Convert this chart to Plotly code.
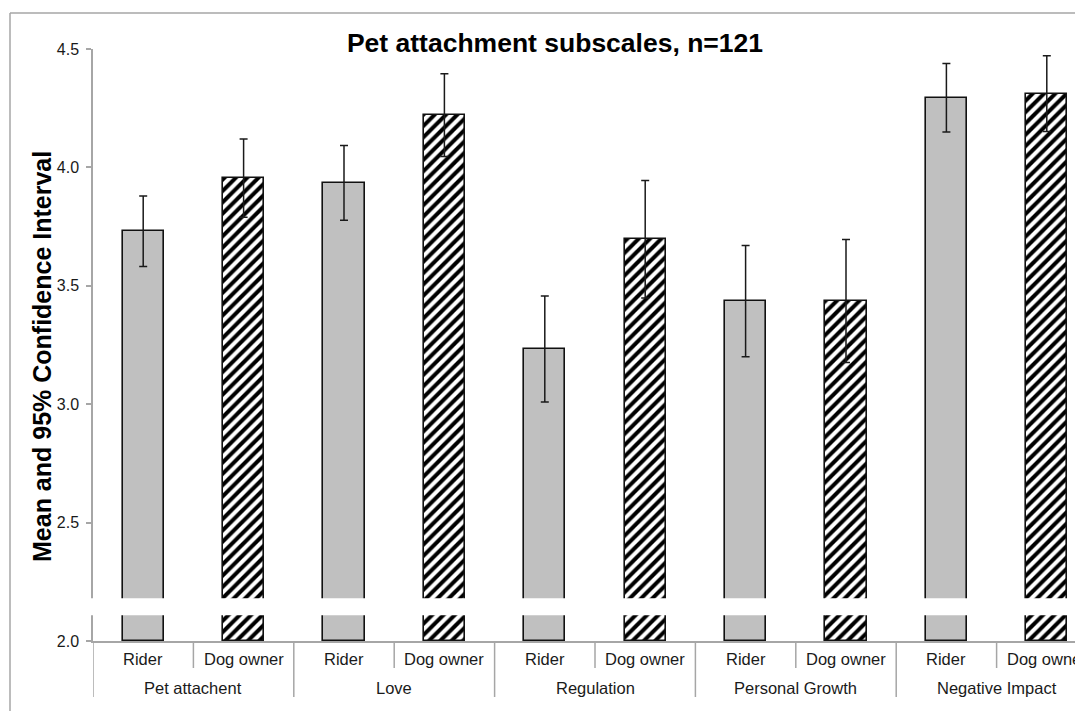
import plotly.graph_objects as go

# ---- data ----
groups = ["Pet attachent", "Love", "Regulation", "Personal Growth", "Negative Impact"]
subgroups = ["Rider", "Dog owner"]
rider_mean = [3.73, 3.935, 3.233, 3.435, 4.294]
rider_ci = [0.149, 0.158, 0.224, 0.235, 0.145]
dog_mean = [3.955, 4.221, 3.697, 3.436, 4.312]
dog_ci = [0.165, 0.175, 0.248, 0.26, 0.16]
y_ticks = [2.0, 2.5, 3.0, 3.5, 4.0, 4.5]
y_range = [2.0, 4.5]
break_band = [2.109, 2.181]   # axis-break band (data units)

FONT = "Arial, Liberation Sans, sans-serif"
OFF = 8                      # page body margin offset
W, H = 1083, 711
ML = 93 - OFF
MT = 49 - OFF
MB = H - (641 - OFF)
MR = 0
PW, PH = W - ML - MR, H - MT - MB

def px_x(p):  # reference pixel -> paper x
    return (p - OFF - ML) / PW

def px_y(p):  # reference pixel -> paper y
    return (H - MB - (p - OFF)) / PH

n = len(groups)
rider_x = [2 * i for i in range(n)]
dog_x = [2 * i + 1 for i in range(n)]
slot_px = 100.4
x_range = [-0.5, -0.5 + PW / slot_px]

GRAY = "#a6a6a6"
TXT = "#1a1a1a"

fig = go.Figure()
fig.add_trace(go.Bar(
    x=rider_x, y=[m - y_range[0] for m in rider_mean], base=y_range[0],
    width=0.41, name="Rider",
    marker=dict(color="#c0c0c0", line=dict(color="#111111", width=1.6)),
    error_y=dict(type="data", array=rider_ci, color=TXT, thickness=1.5, width=4),
    showlegend=False,
))
fig.add_trace(go.Bar(
    x=dog_x, y=[m - y_range[0] for m in dog_mean], base=y_range[0],
    width=0.41, name="Dog owner",
    marker=dict(color="white", line=dict(color="#111111", width=1.6),
                pattern=dict(shape="/", fgcolor="#000000", bgcolor="#ffffff", fgopacity=1,
                             size=8, solidity=0.5)),
    error_y=dict(type="data", array=dog_ci, color=TXT, thickness=1.5, width=4),
    showlegend=False,
))

shapes = []
# axis break band
shapes.append(dict(type="rect", xref="paper", yref="y", x0=px_x(86), x1=1.05,
                   y0=break_band[0], y1=break_band[1], fillcolor="white",
                   line=dict(width=0), layer="above"))
# sub dividers (between Rider and Dog owner)
for i in range(n):
    xb = 2 * i + 0.5
    shapes.append(dict(type="line", xref="x", yref="paper", x0=xb, x1=xb,
                       y0=0, y1=px_y(668), line=dict(color=GRAY, width=1.5)))
# group dividers
for i in range(n + 1):
    xb = 2 * i - 0.5
    shapes.append(dict(type="line", xref="x", yref="paper", x0=xb, x1=xb,
                       y0=0, y1=px_y(697), line=dict(color=GRAY, width=1.5)))
# chart frame (left + top)
shapes.append(dict(type="line", xref="paper", yref="paper", x0=px_x(10), x1=px_x(10),
                   y0=px_y(13), y1=px_y(730), line=dict(color=GRAY, width=1.5)))
shapes.append(dict(type="line", xref="paper", yref="paper", x0=px_x(10), x1=1.05,
                   y0=px_y(13), y1=px_y(13), line=dict(color=GRAY, width=1.5)))

annotations = []
for i in range(n):
    for j, s in enumerate(subgroups):
        annotations.append(dict(x=2 * i + j, y=px_y(659), xref="x", yref="paper",
                                text=s, showarrow=False, yanchor="middle",
                                font=dict(family=FONT, size=16.5, color=TXT)))
    annotations.append(dict(x=2 * i + 0.5, y=px_y(688), xref="x", yref="paper",
                            text=groups[i], showarrow=False, yanchor="middle",
                            font=dict(family=FONT, size=16.5, color=TXT)))
annotations.append(dict(x=px_x(42), y=px_y(357), xref="paper", yref="paper",
                        text="<b>Mean and 95% Confidence Interval</b>", textangle=-90,
                        showarrow=False, xanchor="center", yanchor="middle",
                        font=dict(family=FONT, size=25, color="black")))

fig.update_layout(
    width=W, height=H,
    margin=dict(l=ML, r=MR, t=MT, b=MB, autoexpand=False),
    paper_bgcolor="white", plot_bgcolor="white",
    title=dict(text="<b>Pet attachment subscales, n=121</b>", xref="container", yref="container",
               x=(555 - OFF) / W, xanchor="center", y=1 - (43 - OFF) / H, yanchor="middle",
               font=dict(family=FONT, size=26.5, color="black")),
    bargap=0, barmode="overlay",
    xaxis=dict(range=x_range, showticklabels=False, ticks="", showgrid=False, zeroline=False,
               showline=True, linecolor=GRAY, linewidth=1.5),
    yaxis=dict(range=y_range, tickvals=y_ticks, ticktext=[f"{v:.1f}" for v in y_ticks],
               ticks="outside", ticklen=5, tickcolor=GRAY, tickwidth=1.5, ticklabelstandoff=4,
               showgrid=False, zeroline=False, showline=True, linecolor=GRAY, linewidth=1.5,
               tickfont=dict(family=FONT, size=16, color=TXT)),
    shapes=shapes, annotations=annotations,
)

fig.write_html("out.html")
